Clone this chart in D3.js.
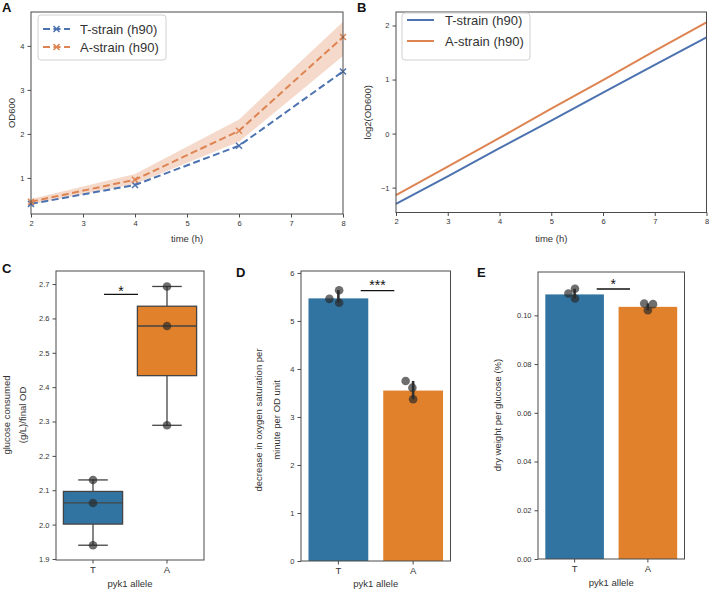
<!DOCTYPE html>
<html>
<head>
<meta charset="utf-8">
<script src="https://cdn.jsdelivr.net/npm/d3@7"></script>
<style>
  html, body { margin: 0; padding: 0; background: #fff; }
  svg { display: block; font-family: "Liberation Sans", Arial, sans-serif; }
</style>
</head>
<body>
<svg id="chart" width="709" height="592"></svg>
<script>
// ---------- data ----------
const hours = [2, 4, 6, 8];
const odT = [0.41, 0.84, 1.73, 3.42];
const odA = [0.46, 0.96, 2.07, 4.20];
const odALow = [0.40, 0.86, 1.82, 3.77];
const odAHigh = [0.52, 1.09, 2.33, 4.55];

const logHours = [2, 3, 4, 5, 6, 7, 8];
const logT = [-1.30, -0.79, -0.27, 0.24, 0.76, 1.27, 1.78];
const logA = [-1.14, -0.61, -0.08, 0.46, 0.99, 1.53, 2.06];

const alleles = ["T", "A"];
const glucoseT = [1.94, 2.063, 2.13];
const glucoseA = [2.289, 2.578, 2.693];

const oxygenT = [5.46, 5.64, 5.38];
const oxygenA = [3.75, 3.61, 3.37];
const oxygenMean = [5.47, 3.55];
const oxygenJitterT = [-0.12, 0.01, 0.01];
const oxygenJitterA = [-0.10, -0.01, 0.0];

const dryT = [0.1090, 0.1109, 0.1069];
const dryA = [0.1049, 0.1046, 0.1021];
const dryMean = [0.1086, 0.1035];
const dryJitterT = [-0.085, 0.005, 0.005];
const dryJitterA = [-0.05, 0.07, 0.0];

const timeTicks = [2, 3, 4, 5, 6, 7, 8];
const odTicks = [1, 2, 3, 4];
const logTicks = [-1, 0, 1, 2];
const glucoseTicks = [1.9, 2.0, 2.1, 2.2, 2.3, 2.4, 2.5, 2.6, 2.7];
const oxygenTicks = [0, 1, 2, 3, 4, 5, 6];
const dryTicks = [0, 0.02, 0.04, 0.06, 0.08, 0.10];

// ---------- style ----------
const BLUE_LINE = "#4c72b0", ORANGE_LINE = "#dd8452";
const BLUE = "#3274a1", ORANGE = "#e1812c";
const FRAME = "#4a4a4a", TEXT = "#333";
const svg = d3.select("#chart");

function frame(x0, x1, y0, y1) {
  svg.append("rect").attr("x", x0).attr("y", y0).attr("width", x1 - x0).attr("height", y1 - y0)
    .attr("fill", "none").attr("stroke", FRAME).attr("stroke-width", 1);
}
function styleAxis(g) {
  g.select(".domain").remove();
  g.selectAll(".tick line").attr("stroke", FRAME);
  g.selectAll(".tick text").attr("fill", TEXT).style("font-size", "7.5px")
    .style("font-family", "Liberation Sans, Arial, sans-serif");
}
function panelLetter(t, x, y) {
  svg.append("text").attr("x", x).attr("y", y).text(t)
    .style("font-size", "13px").style("font-weight", "bold").attr("fill", "#111");
}
function xLabel(t, x, y) {
  svg.append("text").attr("x", x).attr("y", y).attr("text-anchor", "middle").text(t)
    .style("font-size", "9.5px").attr("fill", TEXT);
}
function yLabel(lines, x, y, gap) {
  const t = svg.append("text").attr("transform", `translate(${x},${y}) rotate(-90)`)
    .attr("text-anchor", "middle").style("font-size", "9.5px").attr("fill", TEXT);
  lines.forEach((l, i) => t.append("tspan").attr("x", 0).attr("dy", i === 0 ? 0 : gap).text(l));
}
function xMarker(g, cx, cy, color) {
  const s = 3;
  g.append("path").attr("d", `M${cx - s},${cy - s}L${cx + s},${cy + s}M${cx - s},${cy + s}L${cx + s},${cy - s}`)
    .attr("stroke", color).attr("stroke-width", 1.5).attr("fill", "none");
}

// ---------- Panel A ----------
{
  const L = 31, R = 343, T = 12, B = 214;
  const x = d3.scaleLinear().domain([2, 8]).range([L, R]);
  const y = d3.scaleLinear().domain([0.18, 4.77]).range([B, T]);
  const band = d3.area().x((d, i) => x(hours[i])).y0((d, i) => y(odALow[i])).y1((d, i) => y(odAHigh[i]));
  svg.append("path").datum(hours).attr("d", band).attr("fill", ORANGE_LINE).attr("fill-opacity", 0.3);
  const line = d3.line().x(d => x(d[0])).y(d => y(d[1]));
  [[odT, BLUE_LINE], [odA, ORANGE_LINE]].forEach(([vals, c]) => {
    const pts = hours.map((h, i) => [h, vals[i]]);
    svg.append("path").datum(pts).attr("d", line).attr("fill", "none").attr("stroke", c)
      .attr("stroke-width", 2).attr("stroke-dasharray", "7,3.5");
    pts.forEach(p => xMarker(svg, x(p[0]), y(p[1]), c));
  });
  frame(L, R, T, B);
  svg.append("g").attr("transform", `translate(0,${B})`)
    .call(d3.axisBottom(x).tickValues(timeTicks).tickFormat(d3.format("d")).tickSize(3.5).tickPadding(3)).call(styleAxis);
  svg.append("g").attr("transform", `translate(${L},0)`)
    .call(d3.axisLeft(y).tickValues(odTicks).tickFormat(d3.format("d")).tickSize(3.5).tickPadding(3)).call(styleAxis);
  xLabel("time (h)", (L + R) / 2, 242);
  yLabel(["OD600"], 15, (T + B) / 2, 0);
  panelLetter("A", 2, 12);
  // legend
  svg.append("rect").attr("x", 38).attr("y", 15).attr("width", 128).attr("height", 45).attr("rx", 3)
    .attr("fill", "#fff").attr("fill-opacity", 0.85).attr("stroke", "#d0d0d0");
  [["T-strain (h90)", BLUE_LINE, 29], ["A-strain (h90)", ORANGE_LINE, 47]].forEach(([lab, c, yy]) => {
    svg.append("line").attr("x1", 43).attr("x2", 70).attr("y1", yy).attr("y2", yy)
      .attr("stroke", c).attr("stroke-width", 2).attr("stroke-dasharray", "7,3.5");
    xMarker(svg, 56.5, yy, c);
    svg.append("text").attr("x", 80).attr("y", yy + 4.6).text(lab).style("font-size", "13px").attr("fill", TEXT);
  });
}

// ---------- Panel B ----------
{
  const L = 396, R = 706.5, T = 12, B = 212.5;
  const x = d3.scaleLinear().domain([2, 8]).range([L, R]);
  const y = d3.scaleLinear().domain([-1.46, 2.25]).range([B, T]);
  const line = d3.line().x(d => x(d[0])).y(d => y(d[1]));
  [[logT, BLUE_LINE], [logA, ORANGE_LINE]].forEach(([vals, c]) => {
    svg.append("path").datum(logHours.map((h, i) => [h, vals[i]])).attr("d", line)
      .attr("fill", "none").attr("stroke", c).attr("stroke-width", 2);
  });
  frame(L, R, T, B);
  svg.append("g").attr("transform", `translate(0,${B})`)
    .call(d3.axisBottom(x).tickValues(timeTicks).tickFormat(d3.format("d")).tickSize(3.5).tickPadding(3)).call(styleAxis);
  svg.append("g").attr("transform", `translate(${L},0)`)
    .call(d3.axisLeft(y).tickValues(logTicks).tickFormat(d => d < 0 ? "\u2212" + Math.abs(d) : d).tickSize(3.5).tickPadding(3)).call(styleAxis);
  xLabel("time (h)", (L + R) / 2, 242);
  yLabel(["log2(OD600)"], 371, (T + B) / 2, 0);
  panelLetter("B", 357, 12);
  svg.append("rect").attr("x", 402).attr("y", 13).attr("width", 128).attr("height", 47).attr("rx", 3)
    .attr("fill", "#fff").attr("fill-opacity", 0.85).attr("stroke", "#d0d0d0");
  [["T-strain (h90)", BLUE_LINE, 20], ["A-strain (h90)", ORANGE_LINE, 41]].forEach(([lab, c, yy]) => {
    svg.append("line").attr("x1", 407).attr("x2", 434).attr("y1", yy).attr("y2", yy)
      .attr("stroke", c).attr("stroke-width", 2);
    svg.append("text").attr("x", 445).attr("y", yy + 4.6).text(lab).style("font-size", "13px").attr("fill", TEXT);
  });
}

// shared helpers for categorical panels
function catAxes(x, y, L, B, ticks, fmt) {
  svg.append("g").attr("transform", `translate(0,${B})`)
    .call(d3.axisBottom(x).tickSize(3.5).tickPadding(3)).call(styleAxis)
    .selectAll(".tick text").style("font-size", "9.5px");
  svg.append("g").attr("transform", `translate(${L},0)`)
    .call(d3.axisLeft(y).tickValues(ticks).tickFormat(fmt).tickSize(3.5).tickPadding(3)).call(styleAxis);
}
function sig(label, x1, x2, yLine, yText) {
  svg.append("line").attr("x1", x1).attr("x2", x2).attr("y1", yLine).attr("y2", yLine)
    .attr("stroke", "#111").attr("stroke-width", 1.3);
  svg.append("text").attr("x", (x1 + x2) / 2).attr("y", yText).attr("text-anchor", "middle")
    .text(label).style("font-size", "14px").attr("fill", "#111");
}
const DOT = "#2a2a2a", DOT_OP = 0.68, DOT_R = 4.3;

// ---------- Panel C ----------
{
  const L = 56, R = 204, T = 271, B = 560;
  const x = d3.scaleBand().domain(alleles).range([L, R]).paddingInner(0.2).paddingOuter(0.1);
  const y = d3.scaleLinear().domain([1.897, 2.738]).range([B, T]);
  [[glucoseT, BLUE], [glucoseA, ORANGE]].forEach(([vals, c], i) => {
    const s = vals.slice().sort(d3.ascending);
    const q1 = d3.quantile(s, 0.25), med = d3.quantile(s, 0.5), q3 = d3.quantile(s, 0.75);
    const lo = d3.min(s), hi = d3.max(s);
    const cx = x(alleles[i]) + x.bandwidth() / 2, bw = x.bandwidth();
    const g = svg.append("g");
    g.append("line").attr("x1", cx).attr("x2", cx).attr("y1", y(hi)).attr("y2", y(q3)).attr("stroke", "#444").attr("stroke-width", 1.3);
    g.append("line").attr("x1", cx).attr("x2", cx).attr("y1", y(q1)).attr("y2", y(lo)).attr("stroke", "#444").attr("stroke-width", 1.3);
    [hi, lo].forEach(v => g.append("line").attr("x1", cx - bw / 4).attr("x2", cx + bw / 4)
      .attr("y1", y(v)).attr("y2", y(v)).attr("stroke", "#444").attr("stroke-width", 1.3));
    g.append("rect").attr("x", cx - bw / 2).attr("width", bw).attr("y", y(q3)).attr("height", y(q1) - y(q3))
      .attr("fill", c).attr("stroke", "#444").attr("stroke-width", 1.3);
    g.append("line").attr("x1", cx - bw / 2).attr("x2", cx + bw / 2).attr("y1", y(med)).attr("y2", y(med))
      .attr("stroke", "#444").attr("stroke-width", 1.3);
    vals.forEach(v => g.append("circle").attr("cx", cx).attr("cy", y(v)).attr("r", DOT_R)
      .attr("fill", DOT).attr("fill-opacity", DOT_OP));
  });
  frame(L, R, T, B);
  catAxes(x, y, L, B, glucoseTicks, d3.format(".1f"));
  xLabel("pyk1 allele", (L + R) / 2, 587);
  yLabel(["glucose consumed", "(g/L)/final OD"], 10, 415, 15.5);
  sig("*", 104, 138, 294.3, 296);
  panelLetter("C", 2, 273);
}

// ---------- bar panels ----------
function barPanel(L, R, T, B, yDomain, ticks, fmt, means, pts, jit) {
  const x = d3.scaleBand().domain(alleles).range([L, R]).paddingInner(0.2).paddingOuter(0.1);
  const y = d3.scaleLinear().domain(yDomain).range([B, T]);
  const cols = [BLUE, ORANGE];
  alleles.forEach((a, i) => {
    svg.append("rect").attr("x", x(a)).attr("width", x.bandwidth()).attr("y", y(means[i]))
      .attr("height", y(0) - y(means[i])).attr("fill", cols[i]);
  });
  alleles.forEach((a, i) => {
    const cx = x(a) + x.bandwidth() / 2;
    const [lo, hi] = d3.extent(pts[i]);
    svg.append("line").attr("x1", cx).attr("x2", cx).attr("y1", y(lo)).attr("y2", y(hi))
      .attr("stroke", "#333").attr("stroke-width", 2.6);
    pts[i].forEach((v, k) => svg.append("circle").attr("cx", cx + jit[i][k] * x.step()).attr("cy", y(v))
      .attr("r", DOT_R).attr("fill", DOT).attr("fill-opacity", DOT_OP));
  });
  frame(L, R, T, B);
  catAxes(x, y, L, B, ticks, fmt);
  return x;
}

// ---------- Panel D ----------
{
  const L = 301, R = 450.5, T = 271, B = 561;
  barPanel(L, R, T, B, [0, 6.04], oxygenTicks, d3.format("d"), oxygenMean,
    [oxygenT, oxygenA], [oxygenJitterT, oxygenJitterA]);
  xLabel("pyk1 allele", (L + R) / 2, 587);
  yLabel(["decrease in oxygen saturation per", "minute per OD unit"], 262, 420, 17.5);
  sig("***", 360.7, 394.3, 290.7, 290);
  panelLetter("D", 236, 277);
}

// ---------- Panel E ----------
{
  const L = 538, R = 684.5, T = 272, B = 559;
  barPanel(L, R, T, B, [0, 0.1178], dryTicks, d3.format(".2f"), dryMean,
    [dryT, dryA], [dryJitterT, dryJitterA]);
  xLabel("pyk1 allele", (L + R) / 2, 585.5);
  yLabel(["dry weight per glucose (%)"], 501, 415, 0);
  sig("*", 596.7, 630, 289, 289);
  panelLetter("E", 477, 277);
}
</script>
</body>
</html>
